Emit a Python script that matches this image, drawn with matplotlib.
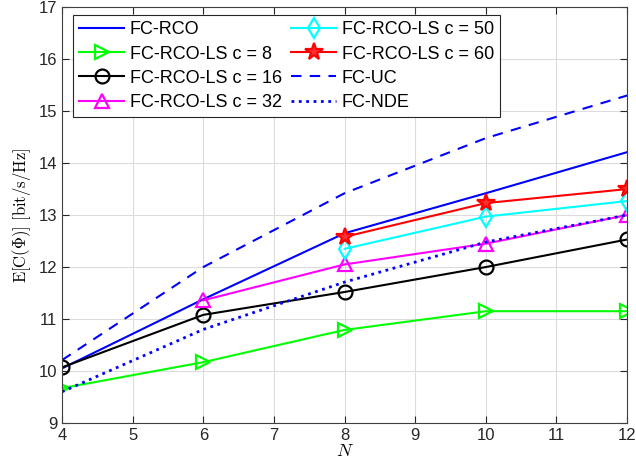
import matplotlib
matplotlib.use('Agg')
import matplotlib.pyplot as plt
import numpy as np

plt.rcParams['font.family'] = ['Liberation Sans', 'DejaVu Sans']
plt.rcParams['mathtext.fontset'] = 'cm'

# data
N = [4, 6, 8, 10, 12]
rco = [10.05, 11.38, 12.65, 13.42, 14.21]
uc = [10.21, 12.0, 13.42, 14.48, 15.3]
nde = [9.6, 10.8, 11.71, 12.48, 13.0]
ls8 = [9.67, 10.17, 10.79, 11.15, 11.15]
ls16 = [10.07, 11.08, 11.52, 12.0, 12.53]
N32 = [6, 8, 10, 12]
ls32 = [11.36, 12.05, 12.45, 13.0]
N50 = [8, 10, 12]
ls50 = [12.35, 12.97, 13.27]
ls60 = [12.58, 13.23, 13.5]

fig = plt.figure(figsize=(6.36, 4.75), dpi=100)
ax = fig.add_axes([0.0975, 0.1095, 0.8885, 0.8755])

lw = 1.5
mk = dict(ms=10, mfc='none', mew=1.6)
ax.plot(N, rco, '-', color='#0000ff', lw=lw, label='FC-RCO')
ax.plot(N, ls8, '-', color='#00ff00', lw=lw, marker='>', label='FC-RCO-LS c = 8', **mk)
ax.plot(N, ls16, '-', color='black', lw=lw, marker='o', label='FC-RCO-LS c = 16', **mk)
ax.plot(N32, ls32, '-', color='#ff00ff', lw=lw, marker='^', label='FC-RCO-LS c = 32', **mk)
ax.plot(N50, ls50, '-', color='#00ffff', lw=lw, marker='d', label='FC-RCO-LS c = 50', **mk)
ax.plot(N50, ls60, '-', color='#ff0000', lw=lw, marker='*', ms=13, mfc='#ff3030',
        mew=1.6, label='FC-RCO-LS c = 60')
ax.plot(N, uc, '--', color='#0000ff', lw=lw, dashes=(5, 4), label='FC-UC')
ax.plot(N, nde, ':', color='#0000ff', lw=2, label='FC-NDE')

ax.set_xlim(4, 12)
ax.set_ylim(9, 17)
ax.set_xticks(range(4, 13))
ax.set_yticks(range(9, 18))
ax.grid(True, color='#dcdcdc', lw=0.8)
ax.set_axisbelow(True)
ax.tick_params(direction='in', top=True, right=True, labelsize=12, colors='#262626',
               length=5)
for s in ax.spines.values():
    s.set_color('#404040')
    s.set_linewidth(0.8)

ax.set_xlabel(r'$N$', fontsize=13, labelpad=0)
ax.set_ylabel(r'$\mathrm{E}[\mathrm{C}(\mathbf{\Phi})]\ [\mathrm{bit/s/Hz}]$', fontsize=12,
              labelpad=4)

leg = ax.legend(loc='upper left', ncol=2, fontsize=13, fancybox=False, framealpha=1,
                edgecolor='#262626', handlelength=2.5, columnspacing=0.5,
                handletextpad=0.3, labelspacing=0.4, borderpad=0.35,
                borderaxespad=0, bbox_to_anchor=(0.0195, 0.981))
leg.get_frame().set_linewidth(0.8)

fig.savefig('out.png', dpi=100)
